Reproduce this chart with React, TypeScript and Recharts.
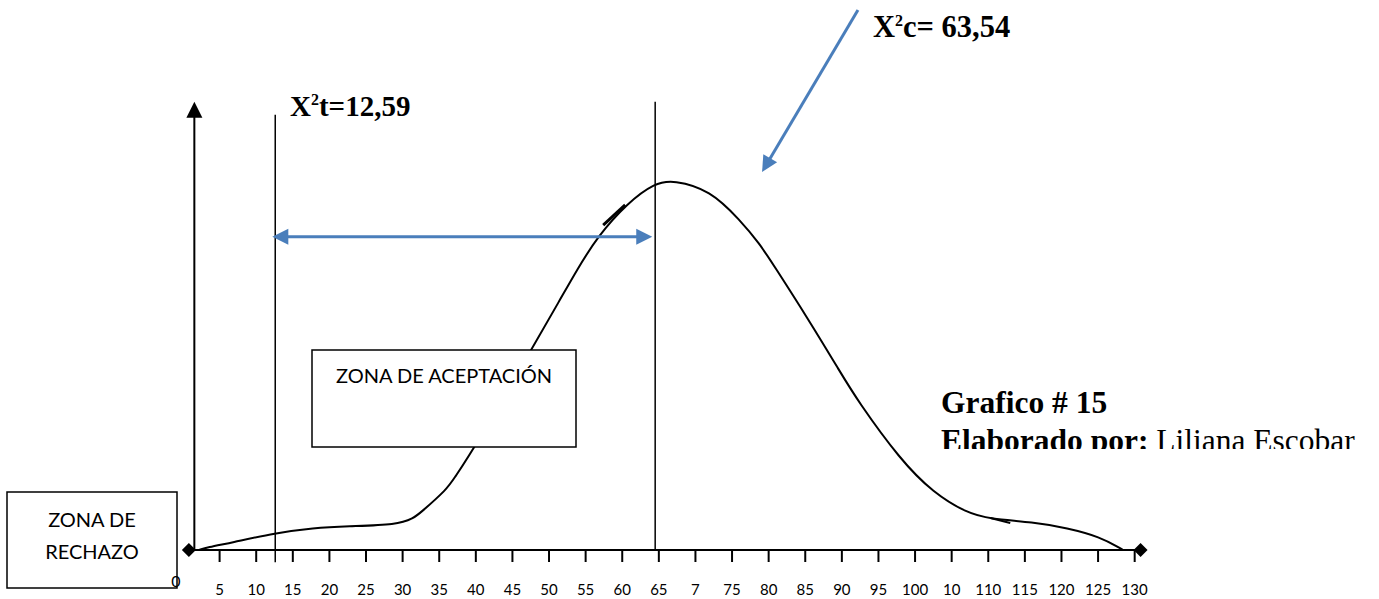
import React from 'react';
import { ComposedChart, Line, XAxis, YAxis, ReferenceLine, ReferenceDot } from 'recharts';

// curve: x on the 0-130 axis, y as % of the plot height
const curveX = [2.2, 3.3, 6.5, 12.7, 17.8, 22.4, 29.3, 31.5, 32.4, 36.1, 36.9, 39.9, 47.7, 51.5, 53.8, 56.6, 60.7, 64.5, 67.0, 72.0, 76.1, 78.8, 80.6, 85.3, 89.8, 92.1, 98.0, 102.5, 107.1, 110.2, 116.1, 120.8, 125.3, 128.0, 128.4];
const curveY = [0, 0.6, 1.6, 3.8, 4.9, 5.3, 5.6, 7.1, 8.2, 13.6, 15.6, 22.9, 44.9, 55.6, 62.2, 69.6, 77.1, 81.6, 82.2, 80.0, 73.3, 68.0, 63.5, 51.6, 39.5, 33.3, 20.0, 12.7, 8.2, 6.9, 6.2, 4.9, 2.9, 0.4, 0];

// axis ticks (labels as typed in the original, typos included)
const tickValues = [0, 5, 10, 15, 20, 25, 30, 35, 40, 45, 50, 55, 60, 65, 70, 75, 80, 85, 90, 95, 100, 105, 110, 115, 120, 125, 130];
const tickLabels = ['0', '5', '10', '15', '20', '25', '30', '35', '40', '45', '50', '55', '60', '65', '7', '75', '80', '85', '90', '95', '100', '10', '110', '115', '120', '125', '130'];

// critical values
const chiTable = 12.6;
const chiCalc = 64.5;

const data = curveX.map((x, i) => ({ x, y: curveY[i] }));

const BLUE = '#4A7EBB';
const SERIF = "'Liberation Serif', 'Times New Roman', serif";
const SANS = "Lato, 'Open Sans', sans-serif";

const AxisTick = (props: any) => {
  const { x, y, payload } = props;
  const label = tickLabels[tickValues.indexOf(payload.value)];
  if (payload.value === 0) {
    return (
      <text x={x - 7} y={y + 37} textAnchor="middle" fontFamily={SANS} fontSize={16} fill="#000">
        {label}
      </text>
    );
  }
  return (
    <g>
      <line x1={x} y1={y} x2={x} y2={y + 12} stroke="#000" strokeWidth={2} />
      <text x={x} y={y + 45} textAnchor="middle" fontFamily={SANS} fontSize={15} fill="#000">
        {label}
      </text>
    </g>
  );
};

const arrowShape = (color: string, width: number, both: boolean) => (p: any) => {
  const { x1, y1, x2, y2 } = p;
  const len = Math.hypot(x2 - x1, y2 - y1) || 1;
  const ux = (x2 - x1) / len;
  const uy = (y2 - y1) / len;
  const L = 16;
  const w = 8;
  const head = (tx: number, ty: number, dx: number, dy: number) => {
    const bx = tx - dx * L;
    const by = ty - dy * L;
    return `${tx},${ty} ${bx - dy * w},${by + dx * w} ${bx + dy * w},${by - dx * w}`;
  };
  const sx = both ? x1 + ux * (L - 2) : x1;
  const sy = both ? y1 + uy * (L - 2) : y1;
  return (
    <g>
      <line x1={sx} y1={sy} x2={x2 - ux * (L - 2)} y2={y2 - uy * (L - 2)} stroke={color} strokeWidth={width} />
      <polygon points={head(x2, y2, ux, uy)} fill={color} />
      {both && <polygon points={head(x1, y1, -ux, -uy)} fill={color} />}
    </g>
  );
};

const diamond = (p: any) => {
  const { cx, cy } = p;
  const r = 7;
  return <polygon points={`${cx},${cy - r} ${cx + r},${cy} ${cx},${cy + r} ${cx - r},${cy}`} fill="#000" />;
};

export default function App() {
  return (
    <div style={{ position: 'absolute', left: 0, top: 0, width: 1379, height: 599, background: '#fff' }}>
      <ComposedChart width={1379} height={599} data={data} margin={{ top: 100, right: 237, bottom: 9, left: 183 }}>
        <XAxis
          type="number"
          dataKey="x"
          domain={[0, 131]}
          ticks={tickValues}
          interval={0}
          tick={<AxisTick />}
          tickLine={false}
          tickSize={0}
          tickMargin={0}
          height={40}
          axisLine={{ stroke: '#000', strokeWidth: 2 }}
        />
        <YAxis type="number" domain={[0, 100]} hide />
        <ReferenceLine
          segment={[{ x: 1.55, y: 0 }, { x: 1.55, y: 99.6 }]}
          ifOverflow="visible"
          shape={arrowShape('#000', 2, false)}
        />
        <ReferenceLine
          segment={[{ x: chiTable, y: -2.7 }, { x: chiTable, y: 96.7 }]}
          ifOverflow="visible"
          stroke="#000"
          strokeWidth={1.5}
        />
        <ReferenceLine
          segment={[{ x: chiCalc, y: 0 }, { x: chiCalc, y: 99.6 }]}
          ifOverflow="visible"
          stroke="#000"
          strokeWidth={1.5}
        />
        <Line type="basis" dataKey="y" stroke="#000" strokeWidth={2} dot={false} isAnimationActive={false} />
        <ReferenceLine
          segment={[{ x: 57.4, y: 72.2 }, { x: 60.4, y: 76.7 }]}
          ifOverflow="visible"
          stroke="#000"
          strokeWidth={3}
        />
        <ReferenceLine
          segment={[{ x: 110.3, y: 7.1 }, { x: 113.0, y: 6.0 }]}
          ifOverflow="visible"
          stroke="#000"
          strokeWidth={2}
        />
        <ReferenceLine
          segment={[{ x: 12.2, y: 69.6 }, { x: 64.1, y: 69.6 }]}
          ifOverflow="visible"
          shape={arrowShape(BLUE, 3, true)}
        />
        <ReferenceLine
          segment={[{ x: 92.2, y: 120 }, { x: 79.1, y: 84 }]}
          ifOverflow="visible"
          shape={arrowShape(BLUE, 3, false)}
        />
        <ReferenceDot x={0.8} y={0} r={7} ifOverflow="visible" shape={diamond} />
        <ReferenceDot x={130.8} y={0} r={7} ifOverflow="visible" shape={diamond} />
      </ComposedChart>

      <svg width={1379} height={599} style={{ position: 'absolute', left: 0, top: 0, pointerEvents: 'none' }}>
        <defs>
          <clipPath id="sigClip">
            <rect x={900} y={360} width={479} height={89} />
          </clipPath>
        </defs>

        <text x={290} y={116} fontFamily={SERIF} fontWeight="bold" fontSize={29} fill="#000">
          X<tspan dy={-11} fontSize={16}>2</tspan>
          <tspan dy={11}>t=12,59</tspan>
        </text>
        <text x={873} y={37} fontFamily={SERIF} fontWeight="bold" fontSize={30.5} fill="#000">
          X<tspan dy={-11} fontSize={16}>2</tspan>
          <tspan dy={11}>c= 63,54</tspan>
        </text>

        <rect x={312} y={350} width={264} height={97} fill="#fff" stroke="#000" strokeWidth={1.5} />
        <text x={444} y={383} textAnchor="middle" fontFamily={SANS} fontSize={20} fill="#000">
          ZONA DE ACEPTACIÓN
        </text>

        <rect x={7} y={492} width={170} height={96} fill="none" stroke="#000" strokeWidth={1.5} />
        <text x={92} y={527} textAnchor="middle" fontFamily={SANS} fontSize={20} fill="#000">
          ZONA DE
        </text>
        <text x={92} y={559} textAnchor="middle" fontFamily={SANS} fontSize={20} fill="#000">
          RECHAZO
        </text>

        <text x={941} y={413} fontFamily={SERIF} fontWeight="bold" fontSize={31.5} fill="#000">
          Grafico # 15
        </text>
        <text x={941} y={451} fontFamily={SERIF} fontSize={31.5} fill="#000" clipPath="url(#sigClip)">
          <tspan fontWeight="bold">Elaborado por:</tspan>
          <tspan> Liliana Escobar</tspan>
        </text>
      </svg>
    </div>
  );
}
